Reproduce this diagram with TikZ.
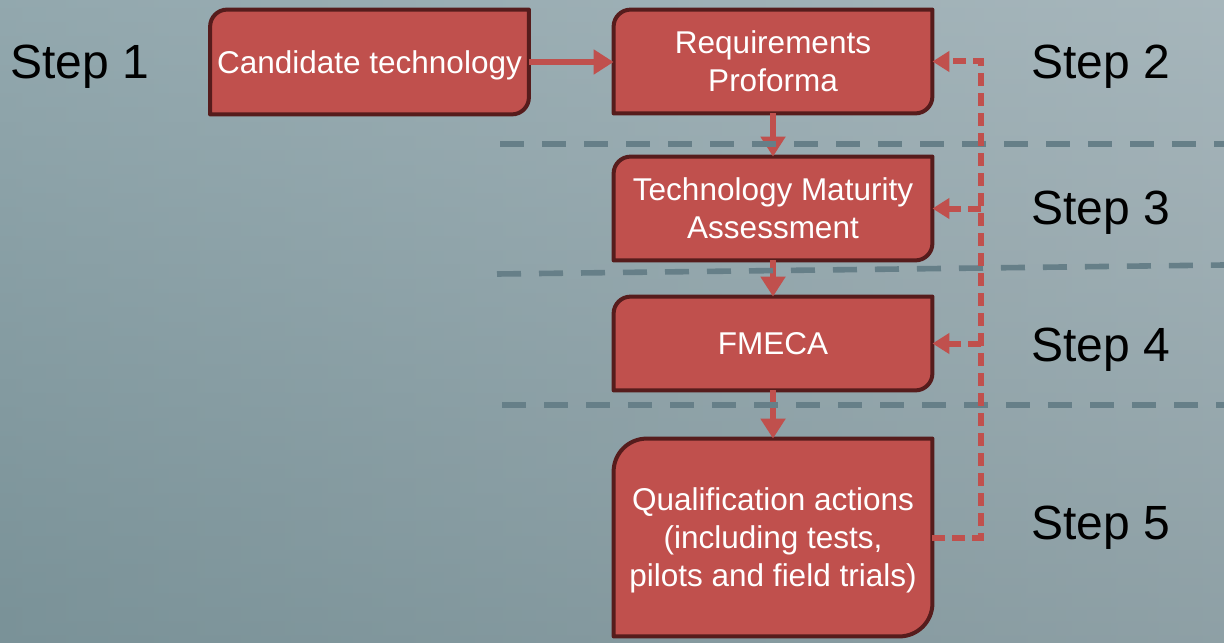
\documentclass[tikz,border=0pt]{standalone}
\usepackage{fontspec}
\setmainfont{Liberation Sans}
\usetikzlibrary{arrows.meta,calc}

\definecolor{boxred}{HTML}{C0504D}
\definecolor{boxedge}{HTML}{561C1C}
\definecolor{sepgray}{HTML}{667F88}
\definecolor{bgtop}{HTML}{ACBFC5}
\definecolor{bgbottom}{HTML}{7A9298}
\definecolor{bgleft}{HTML}{7A9298}
\definecolor{bgright}{HTML}{A2AEB3}

\pgfdeclarelayer{backdrop}
\pgfdeclarelayer{boxes}
\pgfsetlayers{backdrop,boxes,main}

% outline with rounded top-left and bottom-right corners
\newcommand\stageoutline[2]{%
  \draw[stageline] ([yshift=-#2]#1.north west)
    arc[start angle=180,end angle=90,radius=#2] -- (#1.north east)
    -- ([yshift=#2]#1.south east)
    arc[start angle=0,end angle=-90,radius=#2] -- (#1.south west) -- cycle;}

\tikzset{
  stage/.style={minimum width=159pt, minimum height=#1, inner sep=0pt,
    text depth=0pt, text=white, align=center,
    font=\fontsize{15.75}{19}\selectfont},
  stageline/.style={fill=boxred, draw=boxedge, line width=2pt, line join=round},
  steplabel/.style={text=black, inner sep=0pt, text depth=0pt,
    font=\fontsize{24}{28}\selectfont},
  flow/.style={draw=boxred, line width=3.25pt, -{Triangle[length=10pt,width=12pt]}},
  feedback/.style={draw=boxred, line width=3pt, dash pattern=on 6.5pt off 3.5pt,
    -{Triangle[length=8.5pt,width=10pt]}},
  separator/.style={draw=sepgray, line width=2.8pt, dash pattern=on 12pt off 9pt}
}

\begin{document}
\begin{tikzpicture}[x=0.5pt,y=-0.5pt]
  % backdrop: vertical ramp blended with a horizontal ramp
  \begin{pgfonlayer}{backdrop}
    \shade[top color=bgtop, bottom color=bgbottom] (0,0) rectangle (1224,642);
    \shade[left color=bgleft, right color=bgright, fill opacity=0.5] (0,0) rectangle (1224,642);
  \end{pgfonlayer}
  \useasboundingbox (0,0) rectangle (1224,642);

  % stages
  \node[stage=52pt]   (cand)  at (369.5,62)  {Candidate technology};
  \node[stage=51.5pt] (req)   at (773,61.5)  {Requirements\\Proforma};
  \node[stage=51.5pt] (tma)   at (773,208.5) {Technology Maturity\\Assessment};
  \node[stage=46.5pt] (fmeca) at (773,343.5) {FMECA};
  \node[stage=98.5pt] (qual)  at (773,537.5) {Qualification actions\\(including tests,\\pilots and field trials)};

  \begin{pgfonlayer}{boxes}
    \stageoutline{cand}{8.5pt}
    \stageoutline{req}{8.5pt}
    \stageoutline{tma}{8.5pt}
    \stageoutline{fmeca}{8.5pt}
    \stageoutline{qual}{16.5pt}
  \end{pgfonlayer}

  % step labels
  \node[steplabel] (s1) at (80,62)    {Step 1};
  \node[steplabel] (s2) at (1101,62)  {Step 2};
  \node[steplabel] (s3) at (1101,208) {Step 3};
  \node[steplabel] (s4) at (1101,345) {Step 4};
  \node[steplabel] (s5) at (1101,523) {Step 5};

  % main flow
  \draw[flow] (cand.east) -- (cand.east -| req.west);
  \draw[flow] (req.south) -- (tma.north);
  \draw[flow] (tma.south) -- (fmeca.north);
  \draw[flow] (fmeca.south) -- (qual.north);

  % step separators
  \draw[separator] (500,144) -- (1224,144);
  \draw[separator] (497,274) -- (1224,265);
  \draw[separator] (502,405) -- (1224,405);

  % feedback loop
  \coordinate (fb) at (981,0);
  \draw[feedback] (qual.east) -- (qual.east -| fb) -- (req.east -| fb) -- (req.east);
  \draw[feedback] (tma.east -| fb) -- (tma.east);
  \draw[feedback] (fmeca.east -| fb) -- (fmeca.east);
\end{tikzpicture}
\end{document}
